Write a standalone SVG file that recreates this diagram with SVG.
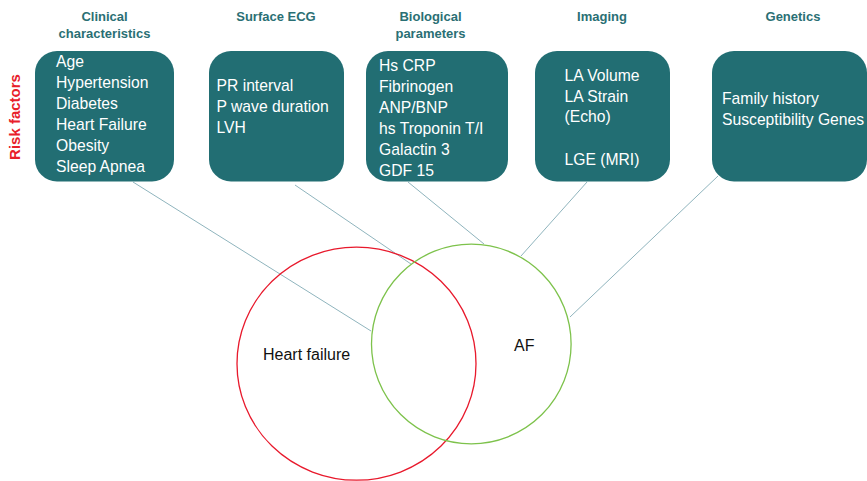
<svg xmlns="http://www.w3.org/2000/svg" width="867" height="481" viewBox="0 0 867 481">
<style>
.hdr{font-family:"Liberation Sans",Arial,sans-serif;font-weight:bold;font-size:13px;fill:#2a6f74;text-anchor:middle}
.box{fill:#226e73}
.it{font-family:"Liberation Sans",Arial,sans-serif;font-size:15.7px;fill:#ffffff}
.con{stroke:#8fb4bd;stroke-width:1;fill:none}
.lbl{font-family:"Liberation Sans",Arial,sans-serif;font-size:16px;fill:#111111}
</style>
<rect width="867" height="481" fill="#ffffff"/>
<text x="19.5" y="117" transform="rotate(-90 19.5 117)" text-anchor="middle" font-family="Liberation Sans, Arial, sans-serif" font-weight="bold" font-size="15" fill="#e8202a">Risk factors</text>
<g id="connectors">
<line class="con" x1="133" y1="182" x2="371" y2="331"/>
<line class="con" x1="295" y1="185" x2="411" y2="264"/>
<line class="con" x1="408" y1="182" x2="484" y2="244"/>
<line class="con" x1="587" y1="182" x2="521" y2="256"/>
<line class="con" x1="718" y1="176" x2="570" y2="317"/>
</g>
<g id="heart-failure">
<ellipse cx="356.5" cy="363.7" rx="119.5" ry="116.5" fill="none" stroke="#e8192c" stroke-width="1.3"/>
<text class="lbl" x="263" y="360">Heart failure</text>
</g>
<g id="af">
<circle cx="471.3" cy="344" r="99.8" fill="none" stroke="#7dc24b" stroke-width="1.3"/>
<text class="lbl" x="514" y="351">AF</text>
</g>
<g id="clinical">
<text class="hdr" x="104.5" y="21">Clinical</text>
<text class="hdr" x="104.5" y="38">characteristics</text>
<rect class="box" x="35" y="51" width="139" height="130.5" rx="22"/>
<text class="it" x="56" y="67">Age</text>
<text class="it" x="56" y="88">Hypertension</text>
<text class="it" x="56" y="109">Diabetes</text>
<text class="it" x="56" y="130">Heart Failure</text>
<text class="it" x="56" y="151">Obesity</text>
<text class="it" x="56" y="172">Sleep Apnea</text>
</g>
<g id="surface-ecg">
<text class="hdr" x="276" y="21">Surface ECG</text>
<rect class="box" x="209" y="51" width="135" height="130.5" rx="22"/>
<text class="it" x="216.5" y="91">PR interval</text>
<text class="it" x="216.5" y="112">P wave duration</text>
<text class="it" x="216.5" y="133">LVH</text>
</g>
<g id="biological">
<text class="hdr" x="430.5" y="21">Biological</text>
<text class="hdr" x="430.5" y="38">parameters</text>
<rect class="box" x="366" y="51" width="142" height="130.5" rx="22"/>
<text class="it" x="379" y="71">Hs CRP</text>
<text class="it" x="379" y="92">Fibrinogen</text>
<text class="it" x="379" y="113">ANP/BNP</text>
<text class="it" x="379" y="134">hs Troponin T/I</text>
<text class="it" x="379" y="155">Galactin 3</text>
<text class="it" x="379" y="176">GDF 15</text>
</g>
<g id="imaging">
<text class="hdr" x="602" y="21">Imaging</text>
<rect class="box" x="535" y="51" width="135" height="130.5" rx="22"/>
<text class="it" x="564.5" y="81">LA Volume</text>
<text class="it" x="564.5" y="102">LA Strain</text>
<text class="it" x="564.5" y="122">(Echo)</text>
<text class="it" x="564.5" y="165">LGE (MRI)</text>
</g>
<g id="genetics">
<text class="hdr" x="793" y="21">Genetics</text>
<rect class="box" x="712" y="51" width="155" height="130.5" rx="22"/>
<text class="it" x="722" y="104">Family history</text>
<text class="it" x="722" y="125">Susceptibility Genes</text>
</g>
</svg>
